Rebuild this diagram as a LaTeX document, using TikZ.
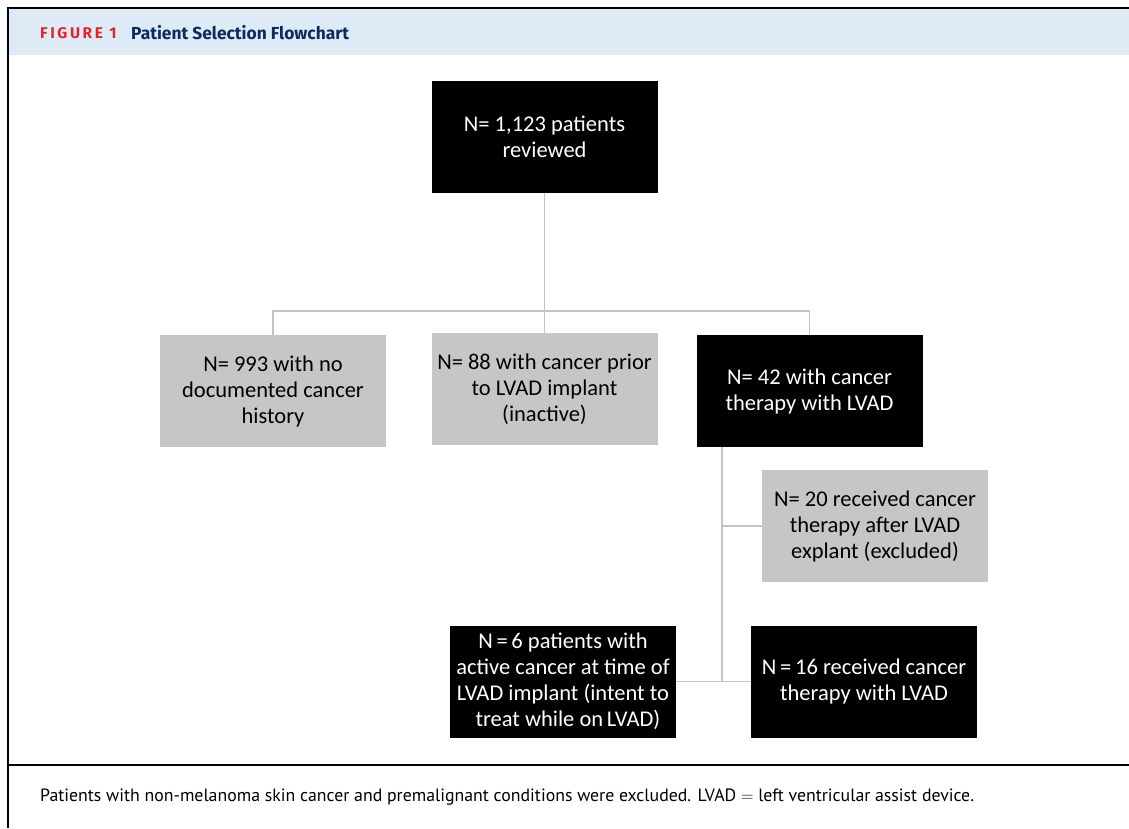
\documentclass[tikz,border=0pt]{standalone}
\usepackage{fontspec}
\setmainfont{Carlito}
\newfontfamily\hdfont{Fira Sans}
\newfontfamily\capfont{PT Sans}
\definecolor{boxgray}{HTML}{C6C6C6}
\definecolor{linegray}{HTML}{C4C4C4}
\definecolor{headbg}{HTML}{DEEAF6}
\definecolor{figred}{HTML}{E3242B}
\definecolor{figblue}{HTML}{0B2D5E}
\begin{document}
\begin{tikzpicture}[x=1pt,y=-1pt,
  base/.style={rectangle, minimum width=226pt, minimum height=112pt, align=center, inner sep=0pt, font=\fontsize{22.5}{26}\selectfont},
  darkbox/.style={base, fill=black, text=white},
  lightbox/.style={base, fill=boxgray, text=black},
  conn/.style={draw=linegray, line width=1.6pt}]
\useasboundingbox (0,0) rectangle (1129,828);
\fill[white] (0,0) rectangle (1129,828);
% header band and frame
\fill[headbg] (9,9) rectangle (1129,55);
\draw[line width=1.6pt] (1129,8) -- (8,8) -- (8,828);
\draw[line width=1.2pt] (8,765) -- (1129,765);
\node[anchor=west, inner sep=0pt, text=figred, font=\hdfont\bfseries\fontsize{15.5}{19}\selectfont] (fig) at (40,33.5) {F\,I\,G\,U\,R\,E\, 1};
\node[anchor=west, inner sep=0pt, text=figblue, font=\hdfont\bfseries\fontsize{17.4}{20}\selectfont] (title) at (131,33) {Patient Selection Flowchart};
\node[anchor=west, inner sep=0pt, font=\capfont\fontsize{17.8}{20}\selectfont] (cap) at (40,797) {Patients with non-melanoma skin cancer and premalignant conditions were excluded. LVAD $=$ left ventricular assist device.};
% boxes
\node[darkbox] (top) at (544.5,137) {N= 1,123 patients\\reviewed};
\node[lightbox] (b1) at (273,391) {N= 993 with no\\documented cancer\\history};
\node[lightbox] (b2) at (544.5,389) {N= 88 with cancer prior\\to LVAD implant\\(inactive)};
\node[darkbox] (b3) at (809.5,391) {N= 42 with cancer\\therapy with LVAD};
\node[lightbox] (b4) at (875,526) {N= 20 received cancer\\therapy after LVAD\\explant (excluded)};
\node[darkbox] (b5) at (563,681.5) {N\,=\,6 patients with\\active cancer at time of\\LVAD implant (intent to\\\hphantom{x}treat while on\,LVAD)};
\node[darkbox] (b6) at (864,681.5) {N\,=\,16 received cancer\\therapy with LVAD};
% connectors
\coordinate (split) at (544.5,311);
\coordinate (tr) at (722,681.5);
\draw[conn] (top.south) -- (split);
\draw[conn] (b1.north) |- (split) -| (b3.north);
\draw[conn] (split) -- (b2.north);
\draw[conn] (b3.south -| tr) -- (tr);
\draw[conn] (b4.west) -- (b4.west -| tr);
\draw[conn] (b5.east) -- (b6.west);
\end{tikzpicture}
\end{document}
